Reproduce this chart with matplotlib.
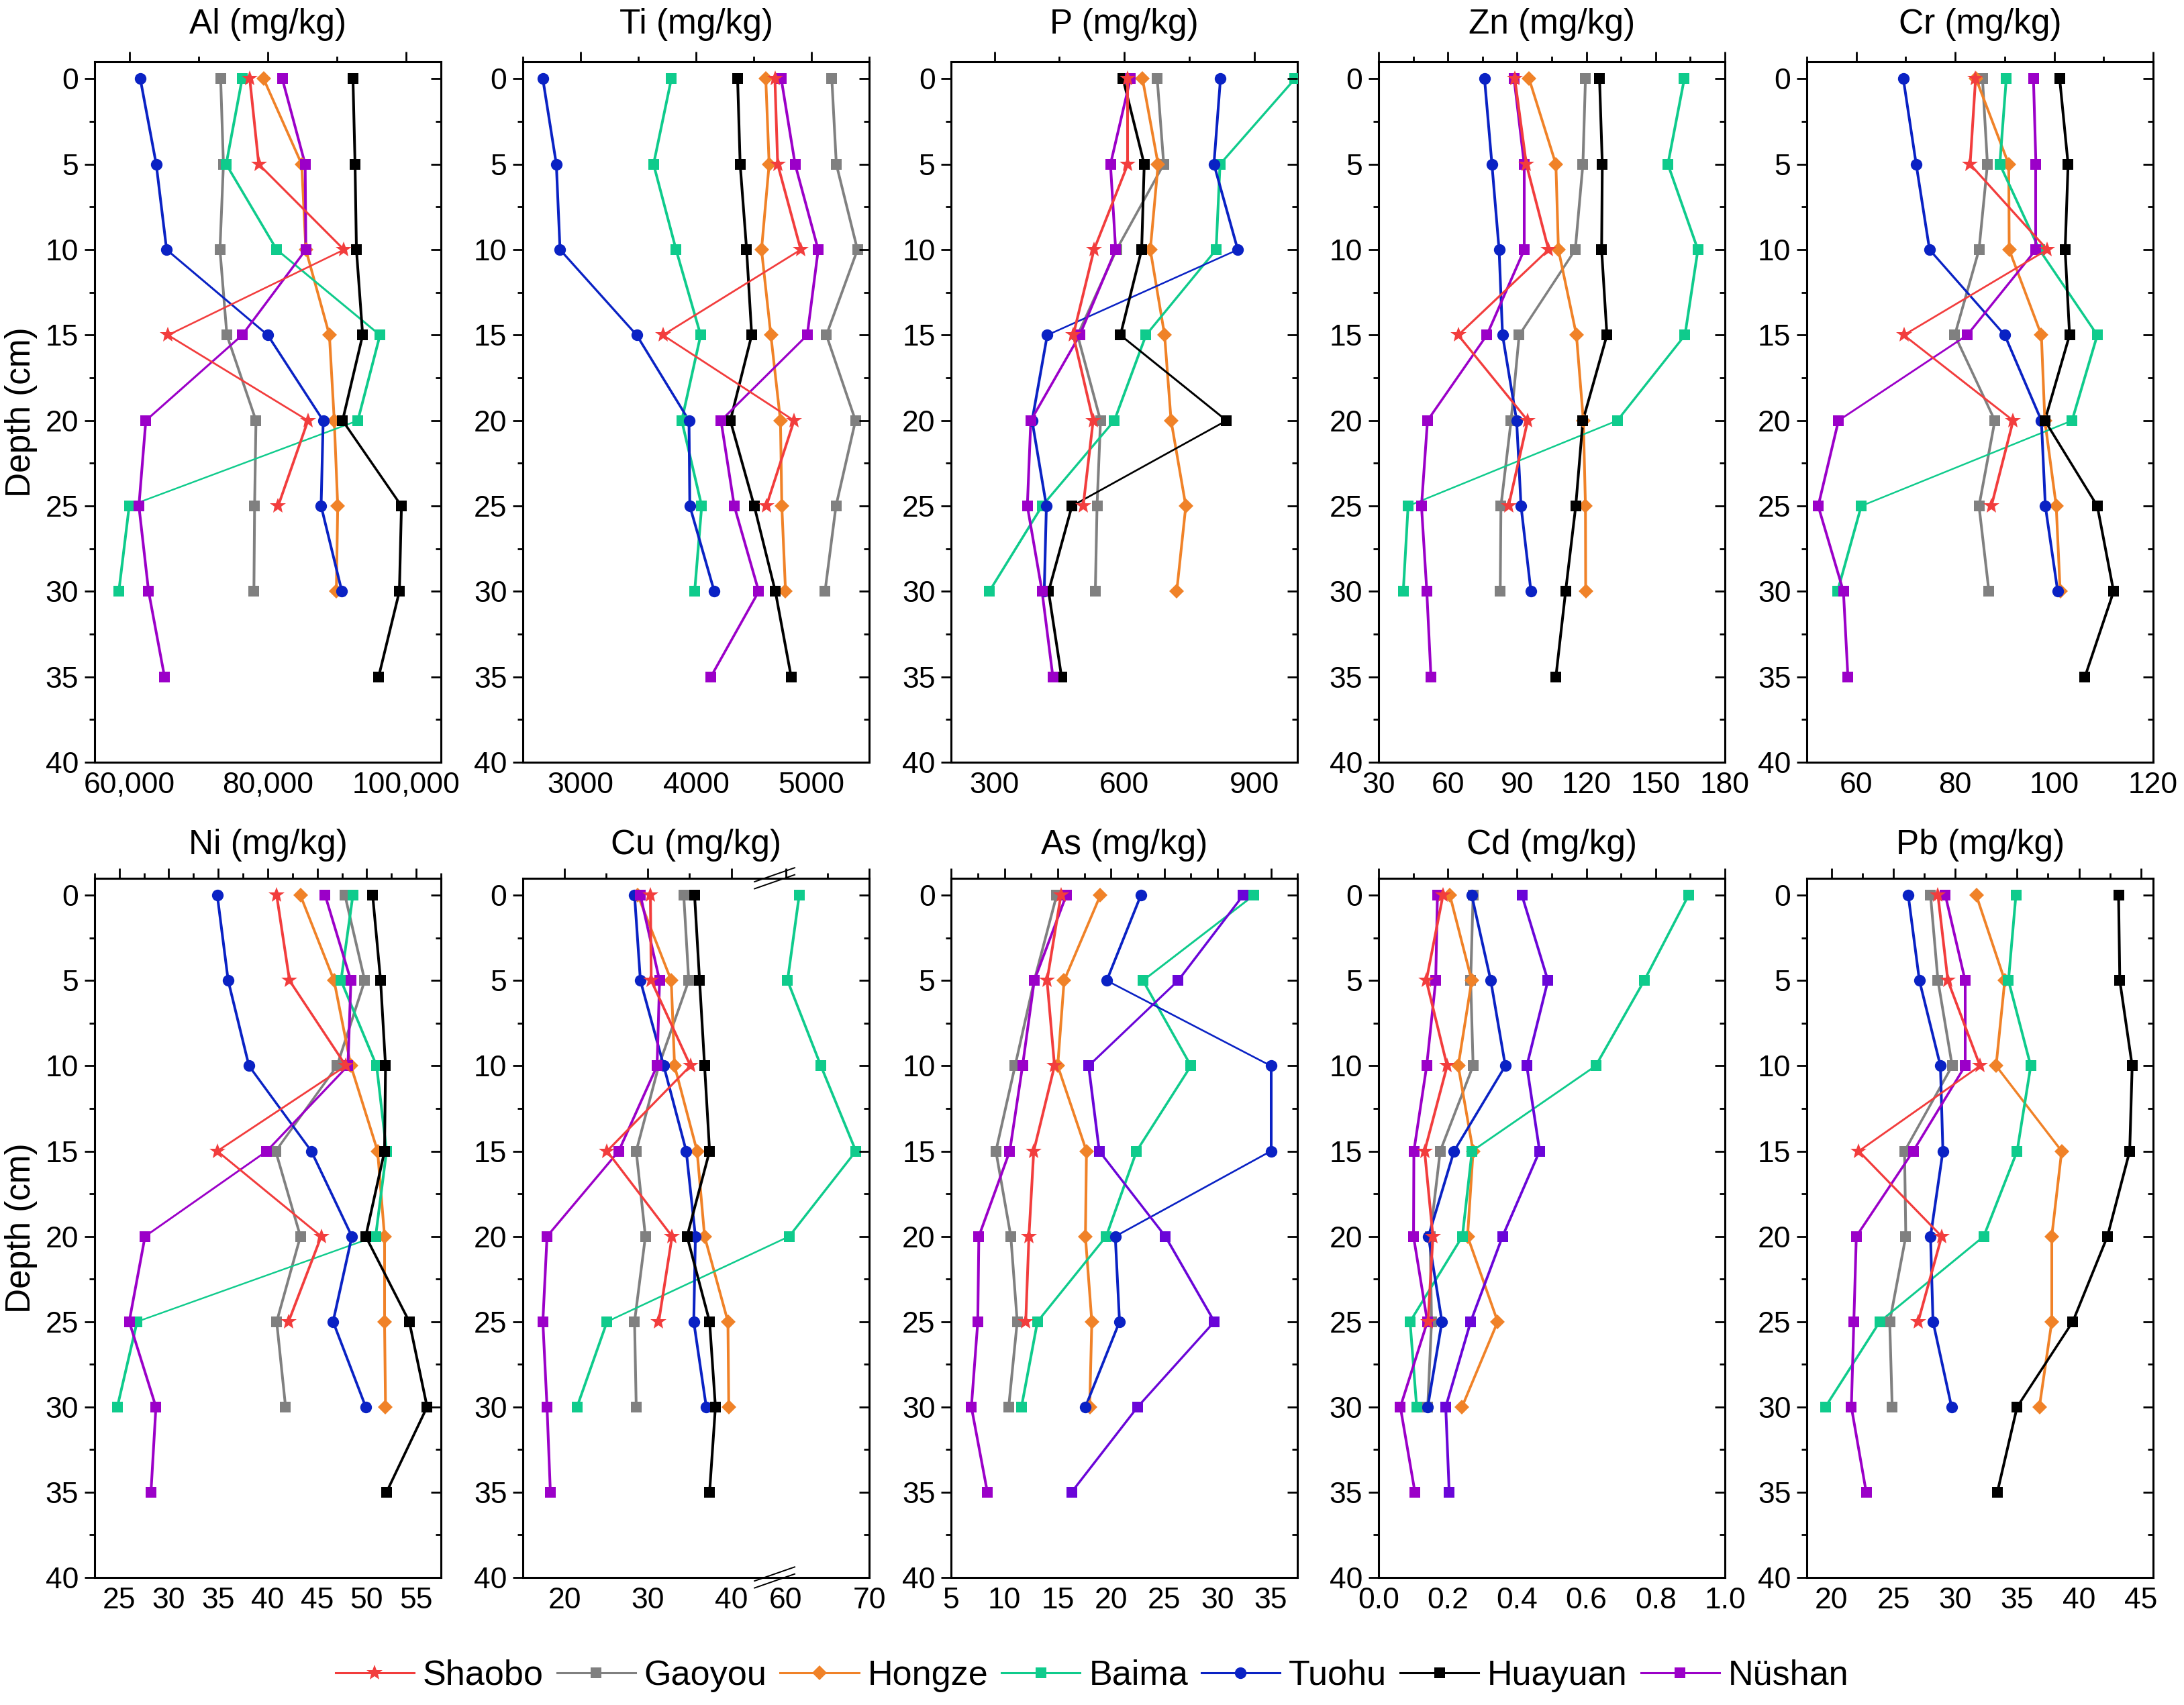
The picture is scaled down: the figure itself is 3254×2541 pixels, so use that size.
#!/usr/bin/env python3
"""
Depth profiles of ten elements at seven sites (2 x 5 panels).
"""

import numpy as np
import matplotlib.pyplot as plt
from matplotlib.ticker import MultipleLocator, FixedLocator, FuncFormatter
from matplotlib.lines import Line2D

plt.rcParams["font.family"] = ["Liberation Sans", "DejaVu Sans"]

# ─── data: one list per element, series in site order ───
depths = [0, 5, 10, 15, 20, 25, 30, 35]
sites = ["Shaobo", "Gaoyou", "Hongze", "Baima", "Tuohu", "Huayuan", "Nüshan"]

al = [
    [77400, 78700, 91000, 65600, 85800, 81500],
    [73200, 73600, 73100, 74100, 78300, 78100, 78000],
    [79400, 84900, 85500, 88900, 89600, 90100, 89900],
    [76300, 74000, 81300, 96200, 93000, 60000, 58500],
    [61600, 63900, 65400, 80000, 88000, 87700, 90700],
    [92300, 92600, 92800, 93700, 90800, 99300, 99000, 96000],
    [82100, 85400, 85500, 76300, 62400, 61400, 62800, 65100],
]
ti = [
    [4683, 4707, 4907, 3713, 4849, 4609],
    [5176, 5215, 5398, 5129, 5381, 5212, 5117],
    [4604, 4633, 4567, 4648, 4731, 4743, 4775],
    [3786, 3632, 3827, 4040, 3876, 4049, 3988],
    [2673, 2790, 2822, 3486, 3939, 3946, 4158],
    [4360, 4382, 4438, 4482, 4297, 4504, 4687, 4824],
    [4738, 4858, 5058, 4963, 4216, 4331, 4543, 4128],
]
p = [
    [608, 608, 530, 482, 528, 505],
    [676, 691, 582, 492, 545, 537, 533],
    [642, 678, 660, 693, 708, 742, 721],
    [994, 821, 812, 650, 577, 410, 288],
    [822, 807, 862, 422, 387, 420, 415],
    [597, 646, 640, 591, 836, 479, 425, 455],
    [614, 568, 580, 497, 384, 376, 410, 435],
]
zn = [
    [89.0, 94.0, 103.6, 64.5, 94.6, 86.3],
    [119.6, 118.5, 115.2, 90.9, 87.4, 83.0, 82.7],
    [95.2, 106.8, 107.9, 115.7, 118.7, 119.6, 119.7],
    [162.4, 155.3, 168.3, 162.7, 133.4, 42.8, 40.7],
    [75.9, 79.1, 82.2, 83.7, 89.8, 91.7, 96.0],
    [125.7, 126.9, 126.6, 128.9, 118.5, 115.4, 111.0, 106.8],
    [88.7, 93.1, 93.1, 76.9, 51.2, 48.6, 50.9, 52.7],
]
cr = [
    [84.1, 83.0, 98.6, 69.6, 91.7, 87.3],
    [85.5, 86.5, 84.8, 79.9, 88.0, 84.8, 86.8],
    [84.2, 90.8, 90.9, 97.4, 98.1, 100.4, 101.2],
    [90.3, 89.0, 97.0, 108.7, 103.6, 61.0, 56.2],
    [69.5, 72.1, 74.8, 90.0, 97.4, 98.2, 100.7],
    [101.1, 102.8, 102.2, 103.1, 98.1, 108.7, 112.0, 106.2],
    [95.8, 96.3, 96.3, 82.4, 56.4, 52.3, 57.4, 58.3],
]
ni = [
    [40.9, 42.2, 47.9, 34.9, 45.4, 42.1],
    [47.8, 49.8, 47.0, 40.8, 43.3, 40.9, 41.8],
    [43.3, 46.7, 48.4, 51.1, 51.8, 51.8, 51.9],
    [48.6, 47.4, 51.0, 52.0, 50.9, 26.8, 24.8],
    [34.9, 36.0, 38.1, 44.4, 48.5, 46.6, 49.9],
    [50.6, 51.4, 51.9, 51.8, 49.9, 54.3, 56.1, 52.0],
    [45.8, 48.4, 48.1, 39.9, 27.6, 26.0, 28.7, 28.2],
]
cu = [
    [30.3, 30.4, 35.1, 25.1, 32.9, 31.3],
    [34.3, 34.9, 31.3, 28.6, 29.7, 28.4, 28.6],
    [28.8, 32.8, 33.2, 35.9, 36.8, 39.6, 39.7],
    [61.6, 60.2, 64.2, 68.4, 60.4, 25.1, 21.5],
    [28.4, 29.1, 31.9, 34.6, 35.7, 35.5, 37.0],
    [35.6, 36.2, 36.8, 37.4, 34.7, 37.4, 38.1, 37.4],
    [29.1, 31.4, 31.1, 26.5, 17.9, 17.4, 17.9, 18.3],
]
as_ = [
    [15.3, 14.0, 14.7, 12.75, 12.3, 12.0],
    [14.9, 12.8, 11.0, 9.2, 10.6, 11.2, 10.4],
    [19.0, 15.6, 15.0, 17.7, 17.6, 18.2, 18.0],
    [33.4, 23.0, 27.5, 22.4, 19.55, 13.1, 11.6],
    [22.8, 19.6, 35.0, 35.0, 20.4, 20.8, 17.6],
    [32.4, 26.3, 17.9, 18.9, 25.1, 29.7, 22.5, 16.3],
    [15.8, 12.8, 11.7, 10.5, 7.6, 7.5, 6.9, 8.4],
]
cd = [
    [0.186, 0.138, 0.198, 0.133, 0.157, 0.143],
    [0.273, 0.266, 0.273, 0.178, 0.149, 0.153, 0.142],
    [0.206, 0.269, 0.230, 0.273, 0.257, 0.344, 0.241],
    [0.895, 0.767, 0.627, 0.270, 0.242, 0.091, 0.110],
    [0.269, 0.324, 0.366, 0.218, 0.144, 0.183, 0.142],
    [0.414, 0.489, 0.428, 0.465, 0.358, 0.266, 0.194, 0.204],
    [0.170, 0.165, 0.139, 0.102, 0.101, 0.141, 0.063, 0.105],
]
pb = [
    [28.6, 29.4, 32.0, 22.2, 28.9, 27.0],
    [28.0, 28.6, 29.75, 25.9, 26.0, 24.7, 24.9],
    [31.7, 34.0, 33.3, 38.6, 37.8, 37.8, 36.8],
    [34.9, 34.3, 36.1, 35.0, 32.3, 23.9, 19.5],
    [26.2, 27.1, 28.8, 29.0, 28.0, 28.2, 29.7],
    [43.2, 43.3, 44.3, 44.1, 42.3, 39.5, 35.0, 33.4],
    [29.2, 30.8, 30.8, 26.6, 22.0, 21.8, 21.6, 22.8],
]

titles = ["Al (mg/kg)", "Ti (mg/kg)", "P (mg/kg)", "Zn (mg/kg)", "Cr (mg/kg)",
          "Ni (mg/kg)", "Cu (mg/kg)", "As (mg/kg)", "Cd (mg/kg)", "Pb (mg/kg)"]
elements = [al, ti, p, zn, cr, ni, cu, as_, cd, pb]

# ─── styles ───
colors = ["#f23d3d", "#808080", "#f08228", "#0fcb8c", "#0a22c4", "#000000", "#9b00c8"]
violet = "#6a05d8"   # Huayuan is drawn in violet in the As and Cd panels
markers = ["*", "s", "D", "s", "o", "s", "s"]
msizes = [18, 12, 11, 12, 12.5, 12, 12]

# x-axis settings per panel: limits, major ticks, minor step
xlims = [(55000, 105000), (2500, 5500), (200, 1000), (30, 180), (50, 120),
         (22.5, 57.5), None, (5, 37.5), (0, 1.0), (18, 46)]
xmajor = [20000, 1000, 300, 30, 20, 5, None, 5, 0.2, 5]
xmajor_start = [60000, 3000, 300, 30, 60, 25, None, 5, 0.0, 20]

# Cu axis is broken: values above 50 are shifted left
CU_SHIFT = 13.45

# steep segments look thicker than flat ones in the original
LW_FLAT = 1.5
LW_STEEP = 2.9


def cu_x(v):
    v = np.asarray(v, dtype=float)
    return np.where(v > 50, v - CU_SHIFT, v)


def draw_series(ax, x, y, color, marker, ms, z):
    x = np.asarray(x, dtype=float)
    y = np.asarray(y, dtype=float)
    pts = ax.transData.transform(np.column_stack([x, y]))
    for k in range(len(x) - 1):
        dx, dy = pts[k + 1] - pts[k]
        s = abs(dy) / max(np.hypot(dx, dy), 1e-9)
        lw = np.sqrt((LW_STEEP * s) ** 2 + (LW_FLAT ** 2) * (1 - s ** 2))
        ax.plot(x[k:k + 2], y[k:k + 2], color=color, lw=lw,
                solid_capstyle="butt", zorder=z)
    ax.plot(x, y, ls="none", marker=marker, markersize=ms, color=color,
            markeredgewidth=0, zorder=z + 0.5)


fig = plt.figure(figsize=(32.54, 25.41), dpi=100)
fig.patch.set_facecolor("white")

lefts = [0.0433, 0.2394, 0.4355, 0.6312, 0.8273]
width = 0.1586
rows = [(0.5529, 0.4109), (0.0748, 0.4101)]
title_y = [1.053, 1.047]

FS = 32

for i, (data, title) in enumerate(zip(elements, titles)):
    r, c = divmod(i, 5)
    ax = fig.add_axes([lefts[c], rows[r][0], width, rows[r][1]])
    ax.set_ylim(40, -1)
    ax.yaxis.set_major_locator(MultipleLocator(5))
    ax.yaxis.set_minor_locator(MultipleLocator(2.5))

    if title.startswith("Cu"):
        ax.set_xlim(15, 70 - CU_SHIFT)
        ax.xaxis.set_major_locator(FixedLocator([20, 30, 40, 60 - CU_SHIFT, 70 - CU_SHIFT]))
        ax.xaxis.set_minor_locator(FixedLocator([25, 35, 65 - CU_SHIFT]))
        ax.xaxis.set_major_formatter(FuncFormatter(
            lambda v, pos: f"{v + CU_SHIFT:.0f}" if v > 45.5 else f"{v:.0f}"))
        # break marks
        xb = (45.2 - 15) / (70 - CU_SHIFT - 15)
        for yb in (1.0, 0.0):
            for off in (-0.005, 0.005):
                ax.plot([xb - 0.058, xb + 0.058], [yb + off - 0.01, yb + off + 0.01],
                        transform=ax.transAxes, color="black", lw=1.4,
                        clip_on=False, zorder=10)
    else:
        ax.set_xlim(*xlims[i])
        step = xmajor[i]
        ticks = np.arange(xmajor_start[i], xlims[i][1] + 1e-9, step)
        ax.xaxis.set_major_locator(FixedLocator(ticks))
        ax.xaxis.set_minor_locator(MultipleLocator(step / 2))
        if title.startswith("Al"):
            ax.xaxis.set_major_formatter(FuncFormatter(lambda v, pos: f"{int(v):,}"))
        elif title.startswith("Cd"):
            ax.xaxis.set_major_formatter(FuncFormatter(lambda v, pos: f"{v:.1f}"))
        else:
            ax.xaxis.set_major_formatter(FuncFormatter(lambda v, pos: f"{v:g}"))

    for j, vals in enumerate(data):
        col = colors[j]
        if title.startswith(("As", "Cd")) and sites[j] == "Huayuan":
            col = violet
        x = cu_x(vals) if title.startswith("Cu") else vals
        draw_series(ax, x, depths[:len(vals)], col, markers[j], msizes[j],
                    3 + (j == 0))

    for s in ax.spines.values():
        s.set_linewidth(2.2)

    ax.tick_params(axis="x", which="both", top=True, bottom=False,
                   labeltop=False, labelbottom=True, direction="out",
                   labelsize=FS, pad=-1, width=2)
    ax.tick_params(axis="x", which="major", length=11)
    ax.tick_params(axis="x", which="minor", length=6)
    ax.tick_params(axis="y", which="both", left=True, right=False,
                   direction="out", labelsize=FS, pad=6, width=2)
    ax.tick_params(axis="y", which="major", length=11)
    ax.tick_params(axis="y", which="minor", length=6)

    # right-hand ticks point inward
    axr = ax.twinx()
    axr.set_ylim(40, -1)
    axr.yaxis.set_major_locator(MultipleLocator(5))
    axr.yaxis.set_minor_locator(MultipleLocator(2.5))
    axr.tick_params(axis="y", which="both", direction="in", labelright=False, width=2)
    axr.tick_params(axis="y", which="major", length=11)
    axr.tick_params(axis="y", which="minor", length=6)
    for s in axr.spines.values():
        s.set_visible(False)

    ax.text(0.5, title_y[r], title, transform=ax.transAxes, ha="center",
            va="center", fontsize=37)
    if c == 0:
        ax.set_ylabel("Depth (cm)", fontsize=37)
        ax.yaxis.set_label_coords(-0.165, 0.5)

# ─── legend ───
handles = [Line2D([], [], color=colors[j], lw=2.2, marker=markers[j],
                  markersize=msizes[j], markeredgewidth=0) for j in range(7)]
fig.legend(handles, sites, loc="center", bbox_to_anchor=(0.5, 0.0172), ncol=7,
           frameon=False, fontsize=37.5, handlelength=2.25, handletextpad=0.25,
           columnspacing=0.38)

plt.savefig("out.png", dpi=100, facecolor="white")
plt.close()
print("saved out.png")
